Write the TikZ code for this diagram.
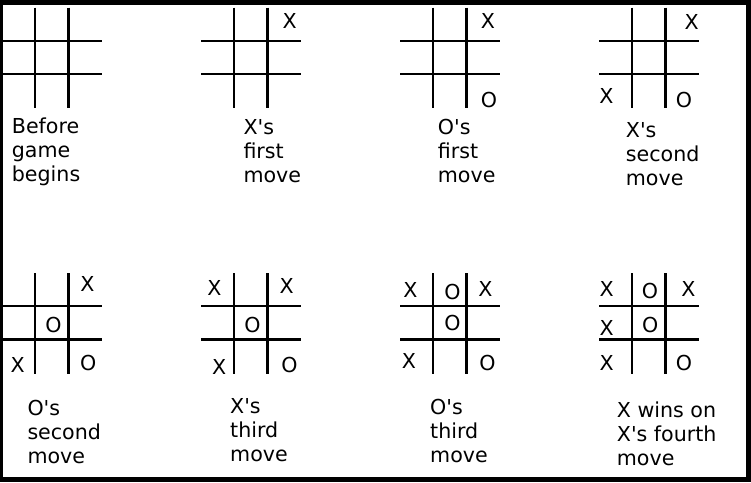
\documentclass[tikz,border=0pt]{standalone}
\usepackage{fontspec}
\setmainfont{DejaVu Sans}
\usetikzlibrary{positioning}
\tikzset{
	x=1pt, y=-1pt,% one unit is one pixel of the sheet, y runs downwards
	grid line/.style = {line width=2.3pt, line cap=butt}, % the four strokes of a board
	piece/.style = {inner sep=0pt, font=\fontsize{20.6}{24}\selectfont}, % an X or an O
	caption/.style = {anchor=base west, align=left, inner sep=0pt, font=\fontsize{20.6}{24}\selectfont} % base is the last line
}
\newcommand{\ap}{\textquotesingle}
\newcommand{\tttboard}[2]{% left and top of a board
	\begin{scope}[shift={(#1,#2)}]
		\foreach \k in {1,2} {
			\draw[grid line] (\k*33.3,0) -- (\k*33.3,100.5);
			\draw[grid line] (0,\k*33.3) -- (100,\k*33.3);
		}
	\end{scope}}

\begin{document}
\begin{tikzpicture}
            \fill[black] (0,0) rectangle (751,482);
            \fill[white] (2.5,4.5) rectangle (745.5,476.5);
            \useasboundingbox (0,0) rectangle (751,482);
            % top row
            \tttboard{2}{7.5}
            \tttboard{201}{7.5}
            \tttboard{400}{7.5}
            \tttboard{599}{7.5}
            \node[piece] (x21) at (289.7,20.5) {X};
            \node[piece] (x31) at (488,20.5) {X};
            \node[piece] (o31) at (489,99.5) {O};
            \node[piece] (x41) at (691.7,21.5) {X};
            \node[piece] (x42) at (606.3,96) {X};
            \node[piece] (o41) at (684,99.5) {O};
            \node[caption] (c1) at (11.7,181.5) {Before\\game\\begins};
            \node[caption] (c2) at (243.3,182.5) {X\ap s\\first\\move};
            \node[caption] (c3) at (437.7,182.5) {O\ap s\\first\\move};
            \node[caption] (c4) at (625.7,185) {X\ap s\\second\\move};
            % bottom row
            \tttboard{2}{273}
            \tttboard{201}{273}
            \tttboard{400}{273}
            \tttboard{599}{273}
            \node[piece] (x51) at (87.5,283.7) {X};
            \node[piece] (o51) at (53.5,324.5) {O};
            \node[piece] (x52) at (17.8,364.5) {X};
            \node[piece] (o52) at (88.3,363.3) {O};
            \node[piece] (x61) at (214.5,287.5) {X};
            \node[piece] (x62) at (286.7,286) {X};
            \node[piece] (o61) at (252.5,324.7) {O};
            \node[piece] (x63) at (219.2,367) {X};
            \node[piece] (o62) at (289.5,365) {O};
            \node[piece] (x71) at (410.3,290) {X};
            \node[piece] (o71) at (452.5,291.7) {O};
            \node[piece] (x72) at (485.5,289) {X};
            \node[piece] (o72) at (452.5,323.3) {O};
            \node[piece] (x73) at (408.8,361.3) {X};
            \node[piece] (o73) at (487.5,362.5) {O};
            \node[piece] (x81) at (606.7,289) {X};
            \node[piece] (o81) at (650,290.5) {O};
            \node[piece] (x82) at (688.3,289) {X};
            \node[piece] (x83) at (606.7,327.5) {X};
            \node[piece] (o82) at (650.3,325) {O};
            \node[piece] (x84) at (606.7,362.5) {X};
            \node[piece] (o83) at (684,363.3) {O};
            \node[caption] (c5) at (27.3,463) {O\ap s\\second\\move};
            \node[caption] (c6) at (230,461.5) {X\ap s\\third\\move};
            \node[caption] (c7) at (430,462.5) {O\ap s\\third\\move};
            \node[caption] (c8) at (616.7,465) {X wins on\\X\ap s fourth\\move};
        \end{tikzpicture}
\end{document}
